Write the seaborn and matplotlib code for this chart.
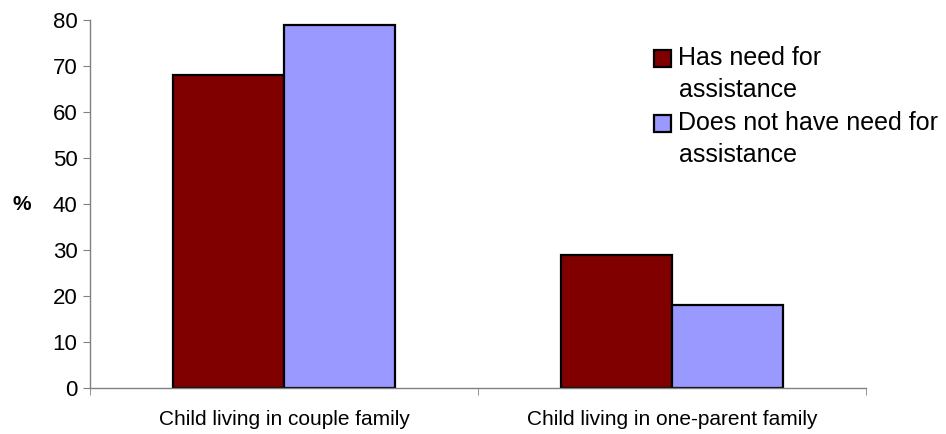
import pandas as pd
import seaborn as sns
import matplotlib.pyplot as plt
from matplotlib.patches import Rectangle
from matplotlib.legend_handler import HandlerPatch

categories = ["Child living in couple family", "Child living in one-parent family"]
series_names = ["Has need for\nassistance", "Does not have need for\nassistance"]
has_need = [68, 29]
no_need = [79, 18]
colors = ["#800000", "#9999FF"]

df = pd.DataFrame({
    "category": categories * 2,
    "series": [series_names[0]] * 2 + [series_names[1]] * 2,
    "value": has_need + no_need,
})

sns.set_style("white")
plt.rcParams["font.family"] = ["Liberation Sans", "DejaVu Sans"]
plt.rcParams["text.color"] = "black"
plt.rcParams["xtick.color"] = "black"
plt.rcParams["ytick.color"] = "black"
plt.rcParams["axes.labelcolor"] = "black"

fig = plt.figure(figsize=(9.46, 4.34), dpi=100)
ax = fig.add_axes([90 / 946, 1 - 388 / 434, (866 - 90) / 946, (388 - 20) / 434])

sns.barplot(data=df, x="category", y="value", hue="series", order=categories,
            hue_order=series_names, palette=colors, saturation=1, width=0.57,
            edgecolor="black", linewidth=1.6, ax=ax)

ax.set_xlim(-0.5, 1.5)
ax.set_ylim(0, 80)
ax.set_yticks(range(0, 81, 10))
ax.tick_params(axis="y", labelsize=16, length=5, color="#808080", left=True, pad=4)
ax.tick_params(axis="x", which="major", labelsize=15, length=0, pad=16)
ax.set_xticks([-0.5, 0.5, 1.5], minor=True)
ax.tick_params(axis="x", which="minor", length=5, color="#808080", bottom=True)

for s in ["top", "right"]:
    ax.spines[s].set_visible(False)
for s in ["left", "bottom"]:
    ax.spines[s].set_color("#808080")
    ax.spines[s].set_linewidth(1)

ax.set_xlabel("")
ax.set_ylabel("%", fontsize=15, fontweight="bold", rotation=0, labelpad=22, va="center")


# square legend key sitting next to the first line of a two-line label
def top_square(legend, orig_handle, xdescent, ydescent, width, height, fontsize):
    side = 0.68 * fontsize
    return Rectangle((-xdescent, -ydescent + height / 2 + 0.32 * fontsize), side, side)


handles, labels = ax.get_legend_handles_labels()
leg = ax.legend(handles, labels, loc="upper left", bbox_to_anchor=(654 / 946, 1 - 46 / 434),
                bbox_transform=fig.transFigure, frameon=False, fontsize=18,
                handlelength=0.68, handleheight=0.68, handletextpad=0.3,
                labelspacing=0.38, borderaxespad=0, borderpad=0,
                handler_map={h: HandlerPatch(patch_func=top_square) for h in handles})
for t in leg.get_texts():
    t.set_linespacing(1.4)

fig.savefig("out.png", dpi=100)
